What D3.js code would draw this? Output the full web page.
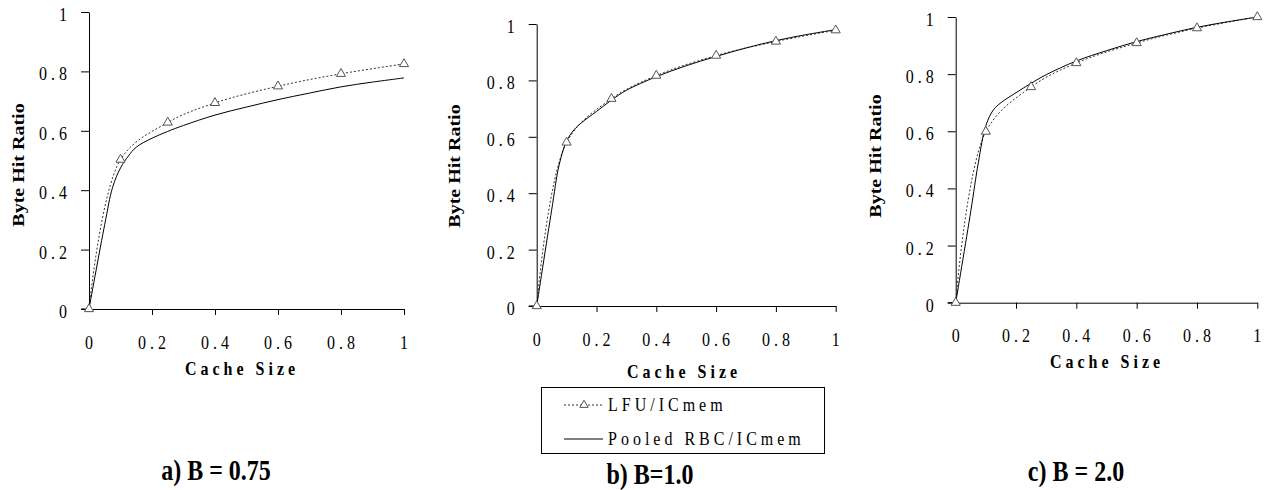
<!DOCTYPE html>
<html lang="en">
<head>
    <meta charset="UTF-8">
    <title>Byte Hit Ratio vs Cache Size</title>
    <script src="https://d3js.org/d3.v7.min.js"></script>
    <style>
        body {
            margin: 0;
            padding: 0;
            background: #fff;
        }
        svg text {
            font-family: "Liberation Serif", "Times New Roman", Times, "DejaVu Serif", serif;
            fill: #000;
        }
        .lfu {
            fill: none;
            stroke: #333;
            stroke-width: 1;
            stroke-dasharray: 2,2;
        }
        .rbc {
            fill: none;
            stroke: #000;
            stroke-width: 1;
        }
        .marker {
            fill: #fff;
            stroke: #555;
            stroke-width: 1;
        }
    </style>
</head>
<body>
    <svg id="chart" width="1267" height="490"></svg>

    <script>
        // cache sizes where LFU/ICmem was measured (markers)
        const lfuSizes = [0, 0.1, 0.25, 0.4, 0.6, 0.8, 1.0];
        const lfuA = [0, 0.503, 0.628, 0.694, 0.750, 0.792, 0.825];
        const lfuB = [0, 0.580, 0.735, 0.817, 0.888, 0.938, 0.978];
        const lfuC = [0, 0.599, 0.755, 0.839, 0.909, 0.961, 1.0];

        // Pooled RBC/ICmem, no markers
        const rbcSizes = [0, 0.05, 0.075, 0.1, 0.125, 0.15, 0.2, 0.25, 0.3, 0.4, 0.5, 0.6, 0.7, 0.8, 0.9, 1.0];
        const rbcA = [0, 0.285, 0.41, 0.475, 0.515, 0.545, 0.575, 0.598, 0.618, 0.653, 0.68, 0.705, 0.727, 0.748, 0.764, 0.778];
        const rbcB = [0, 0.34, 0.50, 0.585, 0.625, 0.65, 0.69, 0.73, 0.765, 0.813, 0.852, 0.885, 0.915, 0.941, 0.962, 0.98];
        const rbcC = [0, 0.32, 0.49, 0.62, 0.675, 0.70, 0.735, 0.768, 0.798, 0.846, 0.882, 0.914, 0.94, 0.964, 0.983, 1.0];

        const tickValues = [0, 0.2, 0.4, 0.6, 0.8, 1];
        const captions = ["a) B = 0.75", "b) B=1.0", "c) B = 2.0"];
        const seriesNames = ["LFU/ICmem", "Pooled RBC/ICmem"];

        // layout of the three panels (pixel boxes)
        const panels = [
            { lfu: lfuA, rbc: rbcA, left: 89, right: 404, top: 12, bottom: 309,
              ylab: [24, 165], xlab: [240, 375], cap: [216, 480] },
            { lfu: lfuB, rbc: rbcB, left: 536.7, right: 835.7, top: 24, bottom: 306,
              ylab: [460, 166], xlab: [682, 378], cap: [650, 484] },
            { lfu: lfuC, rbc: rbcC, left: 955.7, right: 1257.3, top: 17, bottom: 302.7,
              ylab: [881, 156], xlab: [1105, 368], cap: [1076, 481] }
        ];

        const svg = d3.select("#chart")
            .attr("font-family", "'Liberation Serif', 'Times New Roman', Times, 'DejaVu Serif', serif");
        const fmt = d3.format("~g");
        const triangle = d3.symbol().type(d3.symbolTriangle).size(36);

        panels.forEach((p, i) => {
            const x = d3.scaleLinear().domain([0, 1]).range([p.left, p.right]);
            const y = d3.scaleLinear().domain([0, 1]).range([p.bottom, p.top]);
            const g = svg.append("g");

            // y axis
            g.append("g")
                .attr("transform", `translate(${p.left},0)`)
                .call(d3.axisLeft(y).tickValues(tickValues).tickSize(8).tickSizeOuter(0).tickFormat(""))
                .call(a => a.selectAll("path, line").attr("stroke", "#000"));

            // x axis
            g.append("g")
                .attr("transform", `translate(0,${p.bottom})`)
                .call(d3.axisBottom(x).tickValues(tickValues.slice(1)).tickSize(6).tickSizeOuter(0).tickFormat(""))
                .call(a => a.selectAll("path, line").attr("stroke", "#000"));
            g.append("line")
                .attr("x1", p.left - 8).attr("x2", p.left)
                .attr("y1", p.bottom).attr("y2", p.bottom)
                .attr("stroke", "#000");

            // tick labels
            g.selectAll(".ylbl").data(tickValues).enter().append("text")
                .attr("transform", d => `translate(${p.left - 18},${y(d) + 9}) scale(1,1.2)`)
                .attr("text-anchor", "end")
                .attr("font-size", 16)
                .attr("letter-spacing", 4)
                .text(d => fmt(d));
            g.selectAll(".xlbl").data(tickValues).enter().append("text")
                .attr("transform", d => `translate(${x(d) + 2},${p.bottom + 39.5}) scale(1,1.2)`)
                .attr("text-anchor", "middle")
                .attr("font-size", 16)
                .attr("letter-spacing", 4)
                .text(d => fmt(d));

            // axis titles
            g.append("text")
                .attr("transform", `translate(${p.ylab[0]},${p.ylab[1]}) rotate(-90) scale(1.25,1)`)
                .attr("text-anchor", "middle")
                .attr("font-size", 16)
                .attr("font-weight", "bold")
                .text("Byte Hit Ratio");
            g.append("text")
                .attr("transform", `translate(${p.xlab[0] + 2},${p.xlab[1]}) scale(1,1.2)`)
                .attr("text-anchor", "middle")
                .attr("font-size", 16)
                .attr("font-weight", "bold")
                .attr("letter-spacing", 4)
                .text("Cache Size");
            g.append("text")
                .attr("transform", `translate(${p.cap[0]},${p.cap[1]}) scale(1,1.2)`)
                .attr("text-anchor", "middle")
                .attr("font-size", 24)
                .attr("font-weight", "bold")
                .text(captions[i]);

            // series
            const line = d3.line()
                .x(d => x(d[0]))
                .y(d => y(d[1]))
                .curve(d3.curveCatmullRom.alpha(0.5));

            const lfuPts = lfuSizes.map((s, k) => [s, p.lfu[k]]);
            const rbcPts = rbcSizes.map((s, k) => [s, p.rbc[k]]);

            g.append("path").attr("class", "lfu").attr("d", line(lfuPts));
            g.append("path").attr("class", "rbc").attr("d", line(rbcPts));

            g.selectAll(".marker").data(lfuPts).enter().append("path")
                .attr("class", "marker")
                .attr("d", triangle)
                .attr("transform", d => `translate(${x(d[0])},${y(d[1])})`);
        });

        // legend
        const legend = svg.append("g");
        legend.append("rect")
            .attr("x", 541.5).attr("y", 387.5)
            .attr("width", 283).attr("height", 66)
            .attr("fill", "none").attr("stroke", "#000");

        const rows = [{ cls: "lfu", y: 405, base: 411 }, { cls: "rbc", y: 439, base: 445 }];
        rows.forEach((r, k) => {
            legend.append("line")
                .attr("class", r.cls)
                .attr("x1", 564).attr("x2", 603)
                .attr("y1", r.y).attr("y2", r.y);
            if (r.cls === "lfu") {
                legend.append("path")
                    .attr("class", "marker")
                    .attr("d", d3.symbol().type(d3.symbolTriangle).size(30))
                    .attr("transform", `translate(584,${r.y})`);
            }
            legend.append("text")
                .attr("transform", `translate(608,${r.base}) scale(1,1.2)`)
                .attr("font-size", 16)
                .attr("letter-spacing", 4)
                .text(seriesNames[k]);
        });
    </script>
</body>
</html>
